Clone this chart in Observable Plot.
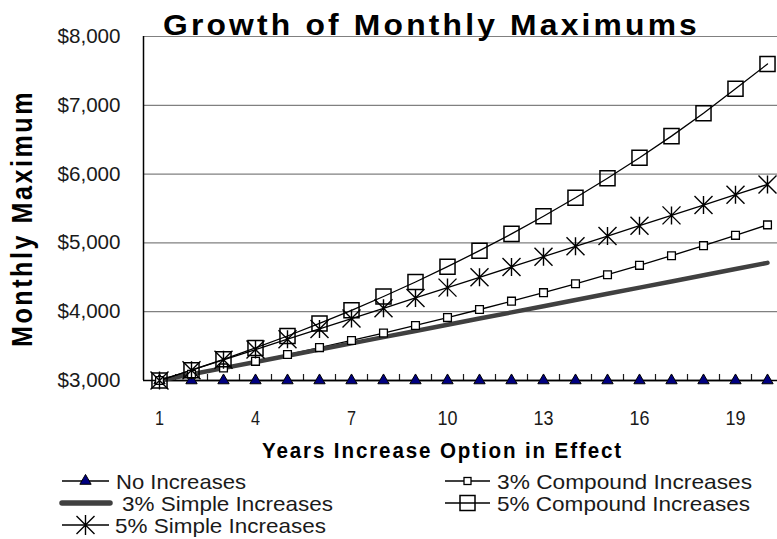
<!DOCTYPE html>
<html><head><meta charset="utf-8">
<script src="https://cdn.jsdelivr.net/npm/d3@7"></script>
<script src="https://cdn.jsdelivr.net/npm/@observablehq/plot@0.6"></script>
<style>
body{margin:0;background:#fff;}
#wrap{position:relative;width:777px;height:539px;overflow:hidden;background:#fff;}
#wrap svg{position:absolute;left:0;top:0;}
</style></head><body><div id="wrap"></div>
<script>
const FONT = '"Liberation Sans Narrow","Arial Narrow","Liberation Sans",Arial,sans-serif';

// ---- data ----
const years = [1,2,3,4,5,6,7,8,9,10,11,12,13,14,15,16,17,18,19,20];
const seriesNames = ["No Increases","3% Compound Increases","3% Simple Increases","5% Compound Increases","5% Simple Increases"];
const noIncreases = [3000,3000,3000,3000,3000,3000,3000,3000,3000,3000,3000,3000,3000,3000,3000,3000,3000,3000,3000,3000];
const compound3 = [3000,3090,3183,3278,3377,3478,3582,3690,3800,3914,4032,4153,4277,4406,4538,4674,4814,4960,5110,5262];
const simple3 = [3000,3090,3180,3270,3360,3450,3540,3630,3720,3810,3900,3990,4080,4170,4260,4350,4440,4530,4620,4710];
const compound5 = [3000,3150,3308,3473,3647,3829,4020,4221,4432,4654,4887,5131,5388,5657,5940,6237,6552,6885,7240,7600];
const simple5 = [3000,3150,3300,3450,3600,3750,3900,4050,4200,4350,4500,4650,4800,4950,5100,5250,5400,5550,5700,5850];
const yTicks = [3000,4000,5000,6000,7000,8000];
const xTickLabels = [1,4,7,10,13,16,19];
const xBounds = [1.5,2.5,3.5,4.5,5.5,6.5,7.5,8.5,9.5,10.5,11.5,12.5,13.5,14.5,15.5,16.5,17.5,18.5,19.5];
const titleText = "Growth of Monthly Maximums";
const xLabel = "Years Increase Option in Effect";
const yLabel = "Monthly Maximum";

const seriesValues = [noIncreases, compound3, simple3, compound5, simple5];
const rows = seriesNames.map((s, i) => years.map((yr, j) => ({series: s, year: yr, value: seriesValues[i][j]})));
const [rNo, rC3, rS3, rC5, rS5] = rows;

const star = {
  draw(ctx, size) {
    const s = Math.sqrt(size / Math.PI);
    ctx.moveTo(-s, -s); ctx.lineTo(s, s);
    ctx.moveTo(-s, s); ctx.lineTo(s, -s);
    ctx.moveTo(0, -s); ctx.lineTo(0, s);
  }
};

const fmt = d => "$" + d3.format(",")(d);

const chart = Plot.plot({
  width: 777, height: 539,
  marginLeft: 143, marginRight: 0, marginTop: 36, marginBottom: 159,
  x: {domain: [0.5, 20.5], range: [143, 783]},
  y: {domain: [3000, 8000], range: [380, 36]},
  style: {fontFamily: FONT, fontSize: "20px", color: "#1a1a1a", background: "transparent"},
  marks: [
    Plot.gridY(yTicks, {stroke: "#808080", strokeOpacity: 1, strokeWidth: 1.2}),
    Plot.axisY(yTicks, {tickSize: 0, tickPadding: 23, tickFormat: fmt, label: null}),
    Plot.axisX(xBounds, {tickSize: 6, dy: -6, tickFormat: () => "", label: null, strokeWidth: 1.2}),
    Plot.axisX(xTickLabels, {tickSize: 0, tickPadding: 30, label: null}),
    Plot.ruleX([0.5], {stroke: "#000", strokeWidth: 1.5}),
    Plot.ruleY([3000], {stroke: "#000", strokeWidth: 1.5}),
    Plot.line(rNo, {x: "year", y: "value", stroke: "#000", strokeWidth: 1.3}),
    Plot.line(rC3, {x: "year", y: "value", stroke: "#000", strokeWidth: 1.3}),
    Plot.line(rS3, {x: "year", y: "value", stroke: "#404040", strokeWidth: 4.5}),
    Plot.line(rC5, {x: "year", y: "value", stroke: "#000", strokeWidth: 1.3}),
    Plot.line(rS5, {x: "year", y: "value", stroke: "#000", strokeWidth: 1.3}),
    Plot.dot(rNo, {x: "year", y: "value", symbol: "triangle", r: 4.2, fill: "#000080", stroke: "#000", strokeWidth: 1}),
    Plot.dot(rC3, {x: "year", y: "value", symbol: "square", r: 4.4, fill: "#fff", stroke: "#000", strokeWidth: 1.3}),
    Plot.dot(rC5, {x: "year", y: "value", symbol: "square", r: 8.5, fill: "none", stroke: "#000", strokeWidth: 1.5}),
    Plot.dot(rS5, {x: "year", y: "value", symbol: star, r: 9, fill: "none", stroke: "#000", strokeWidth: 1.4})
  ]
});
document.getElementById("wrap").appendChild(chart);

// narrow the tick labels to the reference's condensed widths
const cs = d3.select(chart);
cs.selectAll('g[aria-label="y-axis tick label"] text')
  .attr("textLength", 63).attr("lengthAdjust", "spacingAndGlyphs");
cs.selectAll('g[aria-label="x-axis tick label"] text')
  .each(function() { const n = this.textContent.length; d3.select(this).attr("textLength", n > 1 ? 20 : 9).attr("lengthAdjust", "spacingAndGlyphs"); });

// ---- overlay: title, axis titles, legend ----
const ov = d3.select("#wrap").append("svg")
  .attr("width", 777).attr("height", 539)
  .style("pointer-events", "none")
  .attr("font-family", FONT);

ov.append("text").text(titleText)
  .attr("x", 163).attr("y", 35).attr("font-size", 30).attr("font-weight", "bold")
  .attr("letter-spacing", 3)
  .attr("textLength", 537).attr("lengthAdjust", "spacingAndGlyphs").attr("fill", "#000");

ov.append("text").text(xLabel)
  .attr("x", 262).attr("y", 458).attr("font-size", 22).attr("font-weight", "bold")
  .attr("letter-spacing", 2)
  .attr("textLength", 361).attr("lengthAdjust", "spacingAndGlyphs").attr("fill", "#000");

ov.append("text").text(yLabel)
  .attr("transform", "translate(32,347) rotate(-90)")
  .attr("font-size", 30).attr("font-weight", "bold")
  .attr("letter-spacing", 3)
  .attr("textLength", 257).attr("lengthAdjust", "spacingAndGlyphs").attr("fill", "#000");

const legendItems = [
  {name: seriesNames[0], x0: 62, x1: 109, tx: 116, base: 489, w: 130, kind: "tri"},
  {name: seriesNames[2], x0: 62, x1: 110, tx: 122, base: 511, w: 211, kind: "thick"},
  {name: seriesNames[4], x0: 62, x1: 109, tx: 115, base: 533, w: 211, kind: "star"},
  {name: seriesNames[1], x0: 445, x1: 490, tx: 497, base: 489, w: 255, kind: "sq"},
  {name: seriesNames[3], x0: 445, x1: 490, tx: 497, base: 511, w: 253, kind: "bigsq"}
];
for (const it of legendItems) {
  const cy = it.base - 8;
  const cx = (it.x0 + it.x1) / 2;
  if (it.kind === "thick") {
    ov.append("line").attr("x1", it.x0).attr("x2", it.x1).attr("y1", cy).attr("y2", cy)
      .attr("stroke", "#404040").attr("stroke-width", 5.5).attr("stroke-linecap", "round");
  } else {
    ov.append("line").attr("x1", it.x0).attr("x2", it.x1).attr("y1", cy).attr("y2", cy)
      .attr("stroke", "#000").attr("stroke-width", 1.3);
  }
  const g = ov.append("g").attr("transform", `translate(${cx},${cy})`);
  if (it.kind === "tri") {
    g.append("path").attr("d", d3.symbol(d3.symbolTriangle, Math.PI * 4.2 * 4.2)())
      .attr("fill", "#000080").attr("stroke", "#000");
  } else if (it.kind === "sq") {
    g.append("rect").attr("x", -3.5).attr("y", -3.5).attr("width", 7).attr("height", 7)
      .attr("fill", "#fff").attr("stroke", "#000").attr("stroke-width", 1.3);
  } else if (it.kind === "bigsq") {
    g.append("rect").attr("x", -7.5).attr("y", -7.5).attr("width", 15).attr("height", 15)
      .attr("fill", "none").attr("stroke", "#000").attr("stroke-width", 1.5);
  } else if (it.kind === "star") {
    g.append("path").attr("d", "M-9,-9L9,9M-9,9L9,-9M0,-10L0,10")
      .attr("fill", "none").attr("stroke", "#000").attr("stroke-width", 1.4);
  }
  ov.append("text").text(it.name).attr("x", it.tx).attr("y", it.base)
    .attr("font-size", 21).attr("fill", "#1a1a1a")
    .attr("textLength", it.w).attr("lengthAdjust", "spacingAndGlyphs");
}
</script></body></html>
